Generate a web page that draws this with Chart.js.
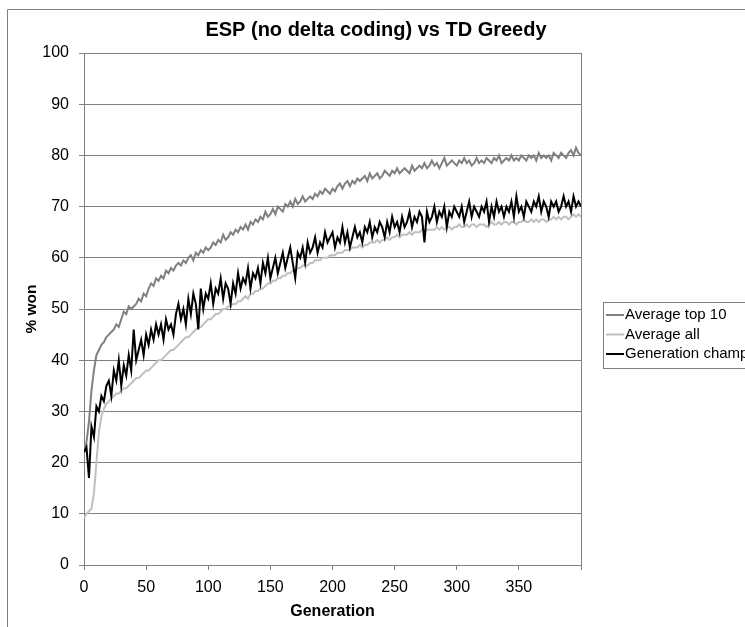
<!DOCTYPE html>
<html>
<head>
<meta charset="utf-8">
<script src="https://cdn.jsdelivr.net/npm/chart.js@4/dist/chart.umd.min.js"></script>
<style>
  html, body { margin: 0; padding: 0; background: #fff; }
  canvas { display: block; }
</style>
</head>
<body>
<canvas id="chart" width="745" height="627"></canvas>
<script>
// values, one point every 2 generations (0..400)
var top10 = [
  22, 24, 28, 34, 38, 41, 42, 43, 43.5, 44.5,
  45, 45.5, 46, 47, 46.5, 48, 49.5, 49, 50.5, 50,
  50.5, 51, 52, 51.5, 53, 52.5, 54, 55, 54.5, 56,
  55.5, 56.5, 56, 57.5, 57, 58, 57.5, 58.5, 59, 58.5,
  59.5, 59, 60, 60.5, 59.5, 61, 60.5, 61.5, 61, 62,
  61.5, 62, 63, 62.5, 63.5, 63, 64.5, 63.5, 64, 65,
  64.5, 65.5, 65, 66, 65.5, 66.5, 65.5, 67, 66.5, 67.5,
  67, 68, 67.5, 69, 68, 68.5, 69.5, 68.5, 70, 69.5,
  69, 70.5, 70, 71, 70, 71.5, 70.5, 71, 72, 71,
  71.5, 72, 71.5, 72.5, 72, 73, 72.5, 73.5, 73, 72.5,
  73.5, 73, 74, 74.5, 73.5, 74.5, 75, 74, 75, 74.5,
  75.5, 75, 75.5, 76, 75, 76.5, 75.5, 76, 76.5, 75.5,
  76, 77, 76.5, 76, 77, 76.5, 77.5, 76.5, 77, 77.5,
  77, 76.5, 78, 77, 77.5, 78, 77.5, 78.5, 77.5, 78,
  79, 78, 78.5, 77.5, 78.5, 79.5, 78, 78.5, 79, 78.5,
  78, 79, 78.5, 79.5, 78.5, 79, 78, 78.5, 79.5, 78.5,
  79, 78.5, 79.5, 79, 78.5, 79.5, 79, 80, 78.5, 79,
  79.5, 79, 80, 79, 79.5, 79, 80, 79.5, 79, 80,
  79.5, 80, 79, 80.5, 79.5, 80, 79.5, 80, 79, 80.5,
  80, 79.5, 80.5, 80, 79.5, 80.5, 81, 80, 81.5, 80.5,
  80
];

var avgAll = [
  9.2, 10, 10.5, 11, 14, 20, 26, 29, 30.5, 31.5,
  32, 32.5, 33, 33.5, 33.5, 34, 34.5, 34.5, 35, 35.5,
  36, 36.5, 36.5, 37, 37.5, 38, 38, 38.5, 39, 39.5,
  40, 40, 40.5, 41, 41.5, 42, 42, 42.5, 43, 43.5,
  44, 44.5, 44.5, 45, 45.5, 46, 46.5, 46.5, 47, 47.5,
  48, 48, 48.5, 49, 49, 49.5, 50, 50, 50.5, 50.5,
  51, 51, 51.5, 51.5, 52, 52.5, 52, 53, 53, 53.5,
  53.5, 54, 54, 54.5, 55, 55, 55.5, 55.5, 56, 56,
  56.5, 56.5, 57, 57, 57.5, 57.5, 58, 58, 58.5, 58.5,
  58.5, 59, 59, 59.5, 59.5, 59.5, 60, 60, 60, 60.5,
  60.5, 60.5, 61, 61, 61, 61.5, 61.5, 61.5, 62, 62,
  62, 62.5, 62, 62.5, 62.5, 63, 63, 63, 63.5, 63,
  63.5, 63.5, 64, 63.5, 64, 64, 64.5, 64, 64.5, 64.5,
  64.5, 65, 64.5, 65, 65, 65, 65.5, 65, 65.5, 65.5,
  65.5, 65.5, 66, 65.5, 66, 65.5, 66, 66, 65.5, 66,
  66, 66.5, 66, 66, 66.5, 66, 66.5, 66.5, 66, 66.5,
  66.5, 66.5, 66, 66.5, 67, 66.5, 66.5, 67, 66.5, 67,
  67, 66.5, 67, 67, 66.5, 67, 67, 67.5, 67, 67,
  67.5, 67, 67.5, 67, 67.5, 67.5, 67, 67.5, 67.5, 68,
  67.5, 68, 67.5, 68, 68, 67.5, 68, 68.5, 68, 68.5,
  68
];

var champ = [
  22, 23, 17, 27, 25, 31, 30, 33, 32, 35,
  36, 33, 38, 36, 40, 35, 39, 37, 41, 38,
  46, 40, 42, 44, 41, 45, 43, 46, 44, 47,
  45, 47, 44, 48, 46, 47, 45, 49, 51, 48,
  50, 47, 52, 49, 53, 51, 46, 54, 50, 53,
  52, 55, 51, 54, 53, 56, 52, 55, 54, 51,
  55, 53, 57, 54, 56, 55, 58, 54, 57, 56,
  58, 55, 59, 57, 60, 56, 58, 60, 57, 59,
  61, 58, 60, 62, 59, 56, 61, 60, 62, 59,
  63, 61, 62, 64, 61, 63, 62, 65, 63, 64,
  65, 62, 64, 63, 66, 63, 65, 62, 64, 66,
  64, 65, 63, 66, 65, 67, 64, 66, 65, 67,
  66, 64, 67, 65, 68, 66, 67, 65, 68, 66,
  67, 69, 66, 68, 67, 69, 68, 63, 69, 67,
  68, 70, 67, 69, 68, 70, 66, 69, 68, 70,
  69, 68, 70, 67, 69, 71, 68, 70, 69, 68,
  70, 69, 71, 67, 70, 68, 71, 69, 70, 68,
  70, 69, 71, 68, 72, 69, 70, 68, 71, 70,
  69, 71, 70, 72, 69, 71, 70, 68, 71, 70,
  71, 69, 70, 72, 70, 71, 69, 72, 70, 71,
  70
];

var seriesNames = ["Average top 10", "Average all", "Generation champ"];
var seriesColors = ["#808080", "#c0c0c0", "#000000"];
var genStep = 2;
var xTickLabels = [0, 50, 100, 150, 200, 250, 300, 350];
var chartTitle = "ESP (no delta coding) vs TD Greedy";
var fontFamily = "'Liberation Sans', Arial, sans-serif";

function toPoints(values) {
    return values.map(function (v, i) { return { x: i * genStep, y: v }; });
}

Chart.defaults.font.family = fontFamily;
Chart.defaults.color = "#000";

var framePlugin = {
    id: "frame",
    beforeDraw: function (chart) {
        var ctx = chart.ctx;
        ctx.save();
        ctx.fillStyle = "#fff";
        ctx.fillRect(0, 0, chart.width, chart.height);
        ctx.strokeStyle = "#808080";
        ctx.lineWidth = 1;
        ctx.beginPath();
        ctx.moveTo(7.5, chart.height);
        ctx.lineTo(7.5, 9.5);
        ctx.lineTo(chart.width, 9.5);
        ctx.stroke();
        ctx.restore();
    },
    afterDraw: function (chart) {
        var ctx = chart.ctx;
        ctx.save();
        // title, centred on the whole chart frame (which runs past the right edge)
        ctx.font = "bold 20px " + fontFamily;
        ctx.textAlign = "center";
        ctx.textBaseline = "middle";
        ctx.fillStyle = "#000";
        ctx.fillText(chartTitle, 376, 30);

        // legend box
        ctx.strokeStyle = "#808080";
        ctx.lineWidth = 1;
        ctx.strokeRect(603.5, 302.5, 160, 66);
        ctx.font = "15px " + fontFamily;
        ctx.textAlign = "left";
        for (var i = 0; i < seriesNames.length; i++) {
            var y = 315 + i * 19.5;
            ctx.strokeStyle = seriesColors[i];
            ctx.lineWidth = 2;
            ctx.beginPath();
            ctx.moveTo(606, y);
            ctx.lineTo(624, y);
            ctx.stroke();
            ctx.fillText(seriesNames[i], 625, y);
        }
        ctx.restore();
    }
};

new Chart(document.getElementById("chart"), {
    type: "line",
    data: {
        datasets: [
            { label: seriesNames[0], data: toPoints(top10), borderColor: seriesColors[0], order: 2 },
            { label: seriesNames[1], data: toPoints(avgAll), borderColor: seriesColors[1], order: 1 },
            { label: seriesNames[2], data: toPoints(champ), borderColor: seriesColors[2], order: 0 }
        ]
    },
    options: {
        responsive: false,
        animation: false,
        devicePixelRatio: 1,
        layout: { padding: { left: 0, right: 164, top: 53, bottom: 0 } },
        elements: {
            point: { radius: 0 },
            line: { borderWidth: 2, tension: 0, fill: false }
        },
        plugins: {
            legend: { display: false },
            tooltip: { enabled: false },
            title: { display: false }
        },
        scales: {
            x: {
                type: "linear",
                min: 0,
                max: 400,
                afterFit: function (scale) { scale.height = 62; },
                border: { color: "#808080", width: 1 },
                grid: {
                    drawOnChartArea: true,
                    color: function (c) { return c.tick && c.tick.value === 400 ? "#808080" : "rgba(0,0,0,0)"; },
                    tickColor: "#808080",
                    tickLength: 5
                },
                ticks: {
                    stepSize: 50,
                    maxRotation: 0,
                    autoSkip: false,
                    padding: 8,
                    font: { size: 16 },
                    callback: function (v) { return xTickLabels.indexOf(v) >= 0 ? String(v) : ""; }
                },
                title: {
                    display: true,
                    text: "Generation",
                    font: { size: 16, weight: "bold" },
                    padding: { top: 0, bottom: 6 }
                }
            },
            y: {
                min: 0,
                max: 100,
                afterFit: function (scale) { scale.width = 84; },
                border: { color: "#808080", width: 1 },
                grid: { color: "#808080", tickColor: "#808080", tickLength: 5 },
                ticks: { stepSize: 10, padding: 10, font: { size: 16 } },
                title: {
                    display: true,
                    text: "% won",
                    font: { size: 15.5, weight: "bold" },
                    padding: { top: 22, bottom: 0 }
                }
            }
        }
    },
    plugins: [framePlugin]
});
</script>
</body>
</html>
